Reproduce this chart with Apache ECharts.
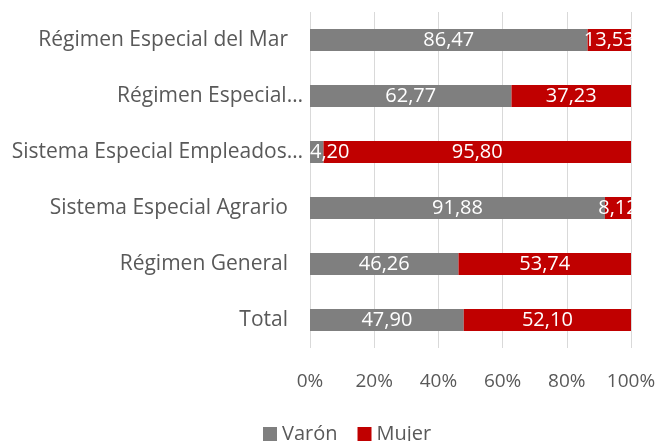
<!DOCTYPE html>
<html>
<head>
<meta charset="utf-8">
<script src="https://cdn.jsdelivr.net/npm/echarts@6/dist/echarts.min.js"></script>
<style>
  html, body { margin: 0; padding: 0; background: #fff; }
  #main { width: 659px; height: 441px; }
</style>
</head>
<body>
<div id="main"></div>
<script>
var categories = ['Total', 'Régimen General', 'Sistema Especial Agrario', 'Sistema Especial Empleados…', 'Régimen Especial…', 'Régimen Especial del Mar'];
var varon = [47.90, 46.26, 91.88, 4.20, 62.77, 86.47];
var mujer = [52.10, 53.74, 8.12, 95.80, 37.23, 13.53];
var xTicks = [0, 20, 40, 60, 80, 100];

var font = 'Open Sans, sans-serif';
var grey = '#595959';

var myChart = echarts.init(document.getElementById('main'));

function fmt(p) {
  return p.value.toFixed(2).replace('.', ',');
}

// truncated names run right up to the axis, full names keep a gap
var yData = categories.map(function (c) {
  if (c.indexOf('…') >= 0) return c;
  return { value: c, textStyle: { padding: [0, 15, 0, 0] } };
});

// a very narrow first bar: label starts at the plot edge
var varonData = varon.map(function (v) {
  if (v < 8) return { value: v, label: { position: 'insideLeft', distance: 0 } };
  return v;
});

var option = {
  animation: false,
  grid: { left: 310, right: 28, top: 12, bottom: 93 },
  legend: {
    top: 419,
    left: 258,
    itemWidth: 14,
    itemHeight: 14,
    itemGap: 20,
    icon: 'rect',
    textStyle: { fontFamily: font, fontSize: 20, color: grey },
    data: ['Varón', 'Mujer']
  },
  xAxis: {
    type: 'value',
    min: 0,
    max: 100,
    interval: 20,
    axisLine: { show: false },
    axisTick: { show: false },
    splitLine: { lineStyle: { color: '#d9d9d9', width: 1 } },
    axisLabel: {
      fontFamily: font,
      fontSize: 19,
      color: grey,
      margin: 24,
      formatter: function (v) { return xTicks.indexOf(v) >= 0 ? v + '%' : ''; }
    }
  },
  yAxis: {
    type: 'category',
    data: yData,
    axisLine: { show: false },
    axisTick: { show: false },
    axisLabel: { fontFamily: font, fontSize: 21, color: grey, margin: 7 }
  },
  series: [
    {
      name: 'Varón',
      type: 'bar',
      stack: 'total',
      barWidth: 22,
      itemStyle: { color: '#7f7f7f' },
      label: { show: true, position: 'inside', color: '#fff', fontFamily: font, fontSize: 20, formatter: fmt },
      data: varonData
    },
    {
      name: 'Mujer',
      type: 'bar',
      stack: 'total',
      barWidth: 22,
      itemStyle: { color: '#c00000' },
      label: { show: true, position: 'inside', color: '#fff', fontFamily: font, fontSize: 20, formatter: fmt },
      data: mujer
    }
  ]
};

option && myChart.setOption(option);
</script>
</body>
</html>
